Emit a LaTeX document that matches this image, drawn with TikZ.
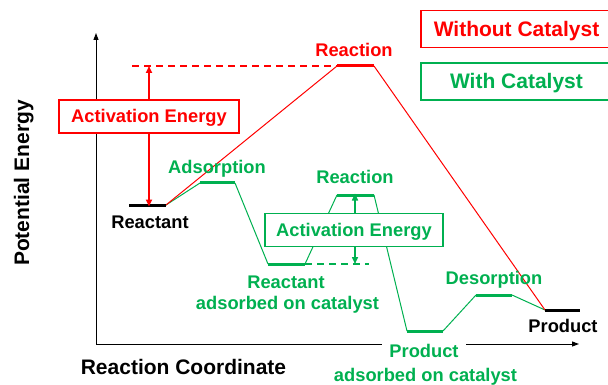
\documentclass[tikz,border=0pt]{standalone}
\usepackage{fontspec}
\setmainfont{Liberation Sans}
\usetikzlibrary{arrows.meta}
\definecolor{cred}{RGB}{255,0,0}
\definecolor{cgreen}{RGB}{0,176,80}
\tikzset{
  lvl/.style={line width=3pt},
  conn/.style={line width=1pt},
  lbl/.style={font=\fontsize{18.3}{21}\selectfont\bfseries, anchor=base, inner sep=0pt, align=center},
  big/.style={font=\fontsize{21}{24}\selectfont\bfseries, inner sep=0pt},
  ebox/.style={draw, line width=1.6pt, fill=white, minimum width=#1, minimum height=33pt, inner sep=0pt,
     font=\fontsize{18.3}{21}\selectfont\bfseries, text height=13pt, text depth=0pt},
  legbox/.style={draw, line width=1.6pt, fill=white, minimum width=191pt, minimum height=37pt, inner sep=0pt,
     font=\fontsize{21}{24}\selectfont\bfseries, text height=15pt, text depth=0pt},
  rcol/.style={draw=cred, text=cred},
  gcol/.style={draw=cgreen, text=cgreen},
  tip/.style={-{Triangle[length=7pt,width=6pt]}},
  axtip/.style={-{Triangle[length=7pt,width=5pt]}},
}
\begin{document}
\begin{tikzpicture}[x=1pt,y=-1pt]
\useasboundingbox (0,0) rectangle (608,385);
\clip (0,0) rectangle (608,385);
% coordinates
\coordinate (R1) at (129,205); \coordinate (R2) at (166,205);
\coordinate (Q1) at (337,66);  \coordinate (Q2) at (374,66);
\coordinate (P1) at (545,310); \coordinate (P2) at (580,310);
\coordinate (A1) at (200,183); \coordinate (A2) at (235,183);
\coordinate (B1) at (268,264); \coordinate (B2) at (305,264);
\coordinate (C1) at (337,195); \coordinate (C2) at (374,195);
\coordinate (D1) at (407,331); \coordinate (D2) at (443,331);
\coordinate (E1) at (476,295); \coordinate (E2) at (512,295);
\coordinate (G) at (369,264);  \coordinate (H) at (132,66);
\coordinate (O) at (96,344); \coordinate (YT) at (96,33); \coordinate (XT) at (579,344);
% axes
\draw[line width=1pt, axtip] (O) -- (YT);
\draw[line width=1pt, axtip] (O) -- (XT);
% green path
\draw[conn, cgreen] (R2) -- (A1) (A2) -- (B1) (B2) -- (C1) (C2) -- (D1) (D2) -- (E1) (E2) -- (P1);
\draw[cgreen, line width=1.5pt, dash pattern=on 7pt off 5pt] (B2) -- (G);
% red path
\draw[conn, cred] (R2) -- (Q1) (Q2) -- (P1);
\draw[cred, line width=1.5pt, dash pattern=on 7pt off 5pt] (H) -- (Q1);
% levels
\draw[lvl] (R1) -- (R2);
\draw[lvl] (P1) -- (P2);
\draw[lvl, cred] (Q1) -- (Q2);
\draw[lvl, cgreen] (A1) -- (A2) (B1) -- (B2) (C1) -- (C2) (D1) -- (D2) (E1) -- (E2);
% activation energy boxes
\node[ebox=180pt, rcol] (rbox) at (149,116.5) {Activation Energy};
\node[ebox=178pt, gcol] (gbox) at (354,230) {Activation Energy};
\draw[cred, line width=1.6pt, tip] (rbox.north) -- (rbox.north |- H);
\draw[cred, line width=1.6pt, tip] (rbox.south) -- ([yshift=-1.5pt]rbox.south |- R1);
\draw[cgreen, line width=1.5pt, tip] ([xshift=1pt]gbox.north) -- ([xshift=1pt,yshift=1.5pt]gbox.north |- C1);
\draw[cgreen, line width=1.5pt, tip] ([xshift=1pt]gbox.south) -- ([xshift=1pt]gbox.south |- G);
% legend
\node[legbox, rcol] (leg1) at (516.5,29) {Without Catalyst};
\node[legbox, gcol] (leg2) at (516.5,81.5) {With Catalyst};
% labels
\node[lbl] (lreact) at (150,229) {Reactant};
\node[lbl] (lprod) at (563,332) {Product};
\node[lbl, text=cred] (lrx1) at (354,57) {Reaction};
\node[lbl, text=cgreen] (ladsorp) at (217,174) {Adsorption};
\node[lbl, text=cgreen] (lrx2) at (355,184) {Reaction};
\node[lbl, text=cgreen] (ldes) at (494,284) {Desorption};
\node[lbl, text=cgreen] (lra1) at (286,288) {Reactant};
\node[lbl, text=cgreen] (lra2) at (287.5,309) {adsorbed on catalyst};
\node[lbl, text=cgreen, fill=white, inner xsep=7pt, inner ysep=4pt] (lpa1) at (424,357) {Product};
\node[lbl, text=cgreen] (lpa2) at (425.5,381) {adsorbed on catalyst};
\node[big, anchor=base, rotate=90] (ylab) at (29,183) {Potential Energy};
\node[big, anchor=base] (xlab) at (183.5,374) {Reaction Coordinate};
\end{tikzpicture}
\end{document}
